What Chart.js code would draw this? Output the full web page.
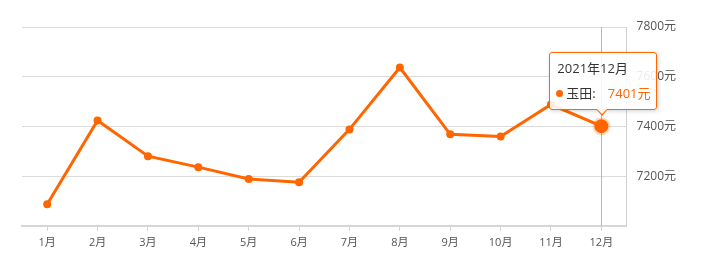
<!DOCTYPE html>
<html>
<head>
<meta charset="utf-8">
<script src="https://cdn.jsdelivr.net/npm/chart.js@4/dist/chart.umd.min.js"></script>
<style>
  html, body { margin: 0; padding: 0; background: #fff; }
  #wrap { position: relative; width: 708px; height: 270px; }
  #tip {
    position: absolute; box-sizing: border-box; width: 108px; height: 58px;
    background: rgba(255,255,255,0.88); border: 1px solid #ff6600; border-radius: 3px;
    box-shadow: 1px 1px 4px rgba(0,0,0,0.18);
    font-family: "Open Sans", "Noto Sans CJK SC", sans-serif; color: #333;
    pointer-events: none; display: none;
  }
  #tip .t { position: absolute; left: 7px; top: 6px; font-size: 13px; line-height: 18px; white-space: nowrap; }
  #tip .b { position: absolute; left: 6px; top: 31px; font-size: 13px; line-height: 18px; white-space: nowrap; }
  #tip .dot { display: inline-block; width: 7px; height: 7px; border-radius: 50%; background: #ff6600; margin-right: 3px; vertical-align: 1px; }
  #tip .v { color: #ff6600; margin-left: 12px; }
  #tip .caret, #tip .caret2 {
    position: absolute; left: 46px; width: 0; height: 0;
    border-left: 6px solid transparent; border-right: 6px solid transparent;
  }
  #tip .caret { bottom: -7px; border-top: 7px solid #ff6600; }
  #tip .caret2 { bottom: -5px; border-top: 6px solid rgba(255,255,255,0.95); }
</style>
</head>
<body>
<div id="wrap">
  <canvas id="c" width="708" height="270"></canvas>
  <div id="tip"><div class="t"></div><div class="b"></div><span class="caret"></span><span class="caret2"></span></div>
</div>
<script>
// 玉田 monthly average price, 2021
const months = ['1月','2月','3月','4月','5月','6月','7月','8月','9月','10月','11月','12月'];
const prices = [7087, 7424, 7280, 7236, 7188, 7175, 7388, 7637, 7368, 7359, 7488, 7401];
const seriesName = '玉田';
const year = 2021;
const yTicks = [7200, 7400, 7600, 7800];
const activeIndex = 11;

const LINE = '#ff6600';
const FONT = '"Open Sans", "Noto Sans CJK SC", sans-serif';

// vertical guide line through the highlighted month
const crosshair = {
  id: 'crosshair',
  beforeDatasetsDraw(chart) {
    const act = chart.getActiveElements();
    if (!act.length) return;
    const x = chart.scales.x.getPixelForValue(act[0].index);
    const { top, bottom } = chart.chartArea;
    const ctx = chart.ctx;
    ctx.save();
    ctx.strokeStyle = '#b8b8b8';
    ctx.lineWidth = 1;
    ctx.beginPath();
    ctx.moveTo(Math.round(x) + 0.5, top);
    ctx.lineTo(Math.round(x) + 0.5, bottom);
    ctx.stroke();
    ctx.restore();
  }
};

function externalTip({ chart, tooltip }) {
  const el = document.getElementById('tip');
  if (tooltip.opacity === 0) { el.style.display = 'none'; return; }
  const i = tooltip.dataPoints[0].dataIndex;
  el.querySelector('.t').textContent = year + '年' + months[i];
  el.querySelector('.b').innerHTML = '<span class="dot"></span>' + seriesName + ':<span class="v">' + prices[i] + '元</span>';
  el.style.display = 'block';
  el.style.left = (tooltip.caretX - 52) + 'px';
  el.style.top = (tooltip.caretY - 74) + 'px';
}

const chart = new Chart(document.getElementById('c'), {
  type: 'line',
  data: {
    labels: months,
    datasets: [{
      label: seriesName,
      data: prices,
      borderColor: LINE,
      backgroundColor: LINE,
      borderWidth: 3,
      pointRadius: 4,
      pointBackgroundColor: LINE,
      pointBorderWidth: 0,
      pointHoverRadius: 7,
      pointHoverBackgroundColor: LINE,
      pointHoverBorderColor: 'rgba(255,102,0,0.25)',
      pointHoverBorderWidth: 4,
      tension: 0
    }]
  },
  options: {
    responsive: false,
    animation: false,
    layout: { padding: { left: 22, right: 22, top: 27, bottom: 16 } },
    plugins: {
      legend: { display: false },
      tooltip: { enabled: false, external: externalTip, mode: 'index', intersect: false }
    },
    scales: {
      x: {
        offset: true,
        grid: { drawOnChartArea: false, tickLength: 5, color: '#d4d4d4', tickWidth: 1 },
        border: { display: true, color: '#d6d6d6', width: 2 },
        ticks: { color: '#555', font: { family: FONT, size: 11 }, padding: 5, maxRotation: 0, autoSkip: false }
      },
      y: {
        position: 'right',
        min: 7000,
        max: 7800,
        afterBuildTicks(scale) { scale.ticks = [7000].concat(yTicks).map(v => ({ value: v })); },
        grid: { color: '#dcdcdc', drawTicks: false, lineWidth: 1 },
        border: { display: true, color: '#cfcfcf', width: 1 },
        ticks: {
          color: '#555', padding: 10, font: { family: FONT, size: 12 },
          callback: v => (yTicks.includes(v) ? v + '元' : '')
        }
      }
    }
  },
  plugins: [crosshair]
});

const meta = chart.getDatasetMeta(0);
const pt = meta.data[activeIndex];
chart.setActiveElements([{ datasetIndex: 0, index: activeIndex }]);
chart.tooltip.setActiveElements([{ datasetIndex: 0, index: activeIndex }], { x: pt.x, y: pt.y });
chart.update();
</script>
</body>
</html>
